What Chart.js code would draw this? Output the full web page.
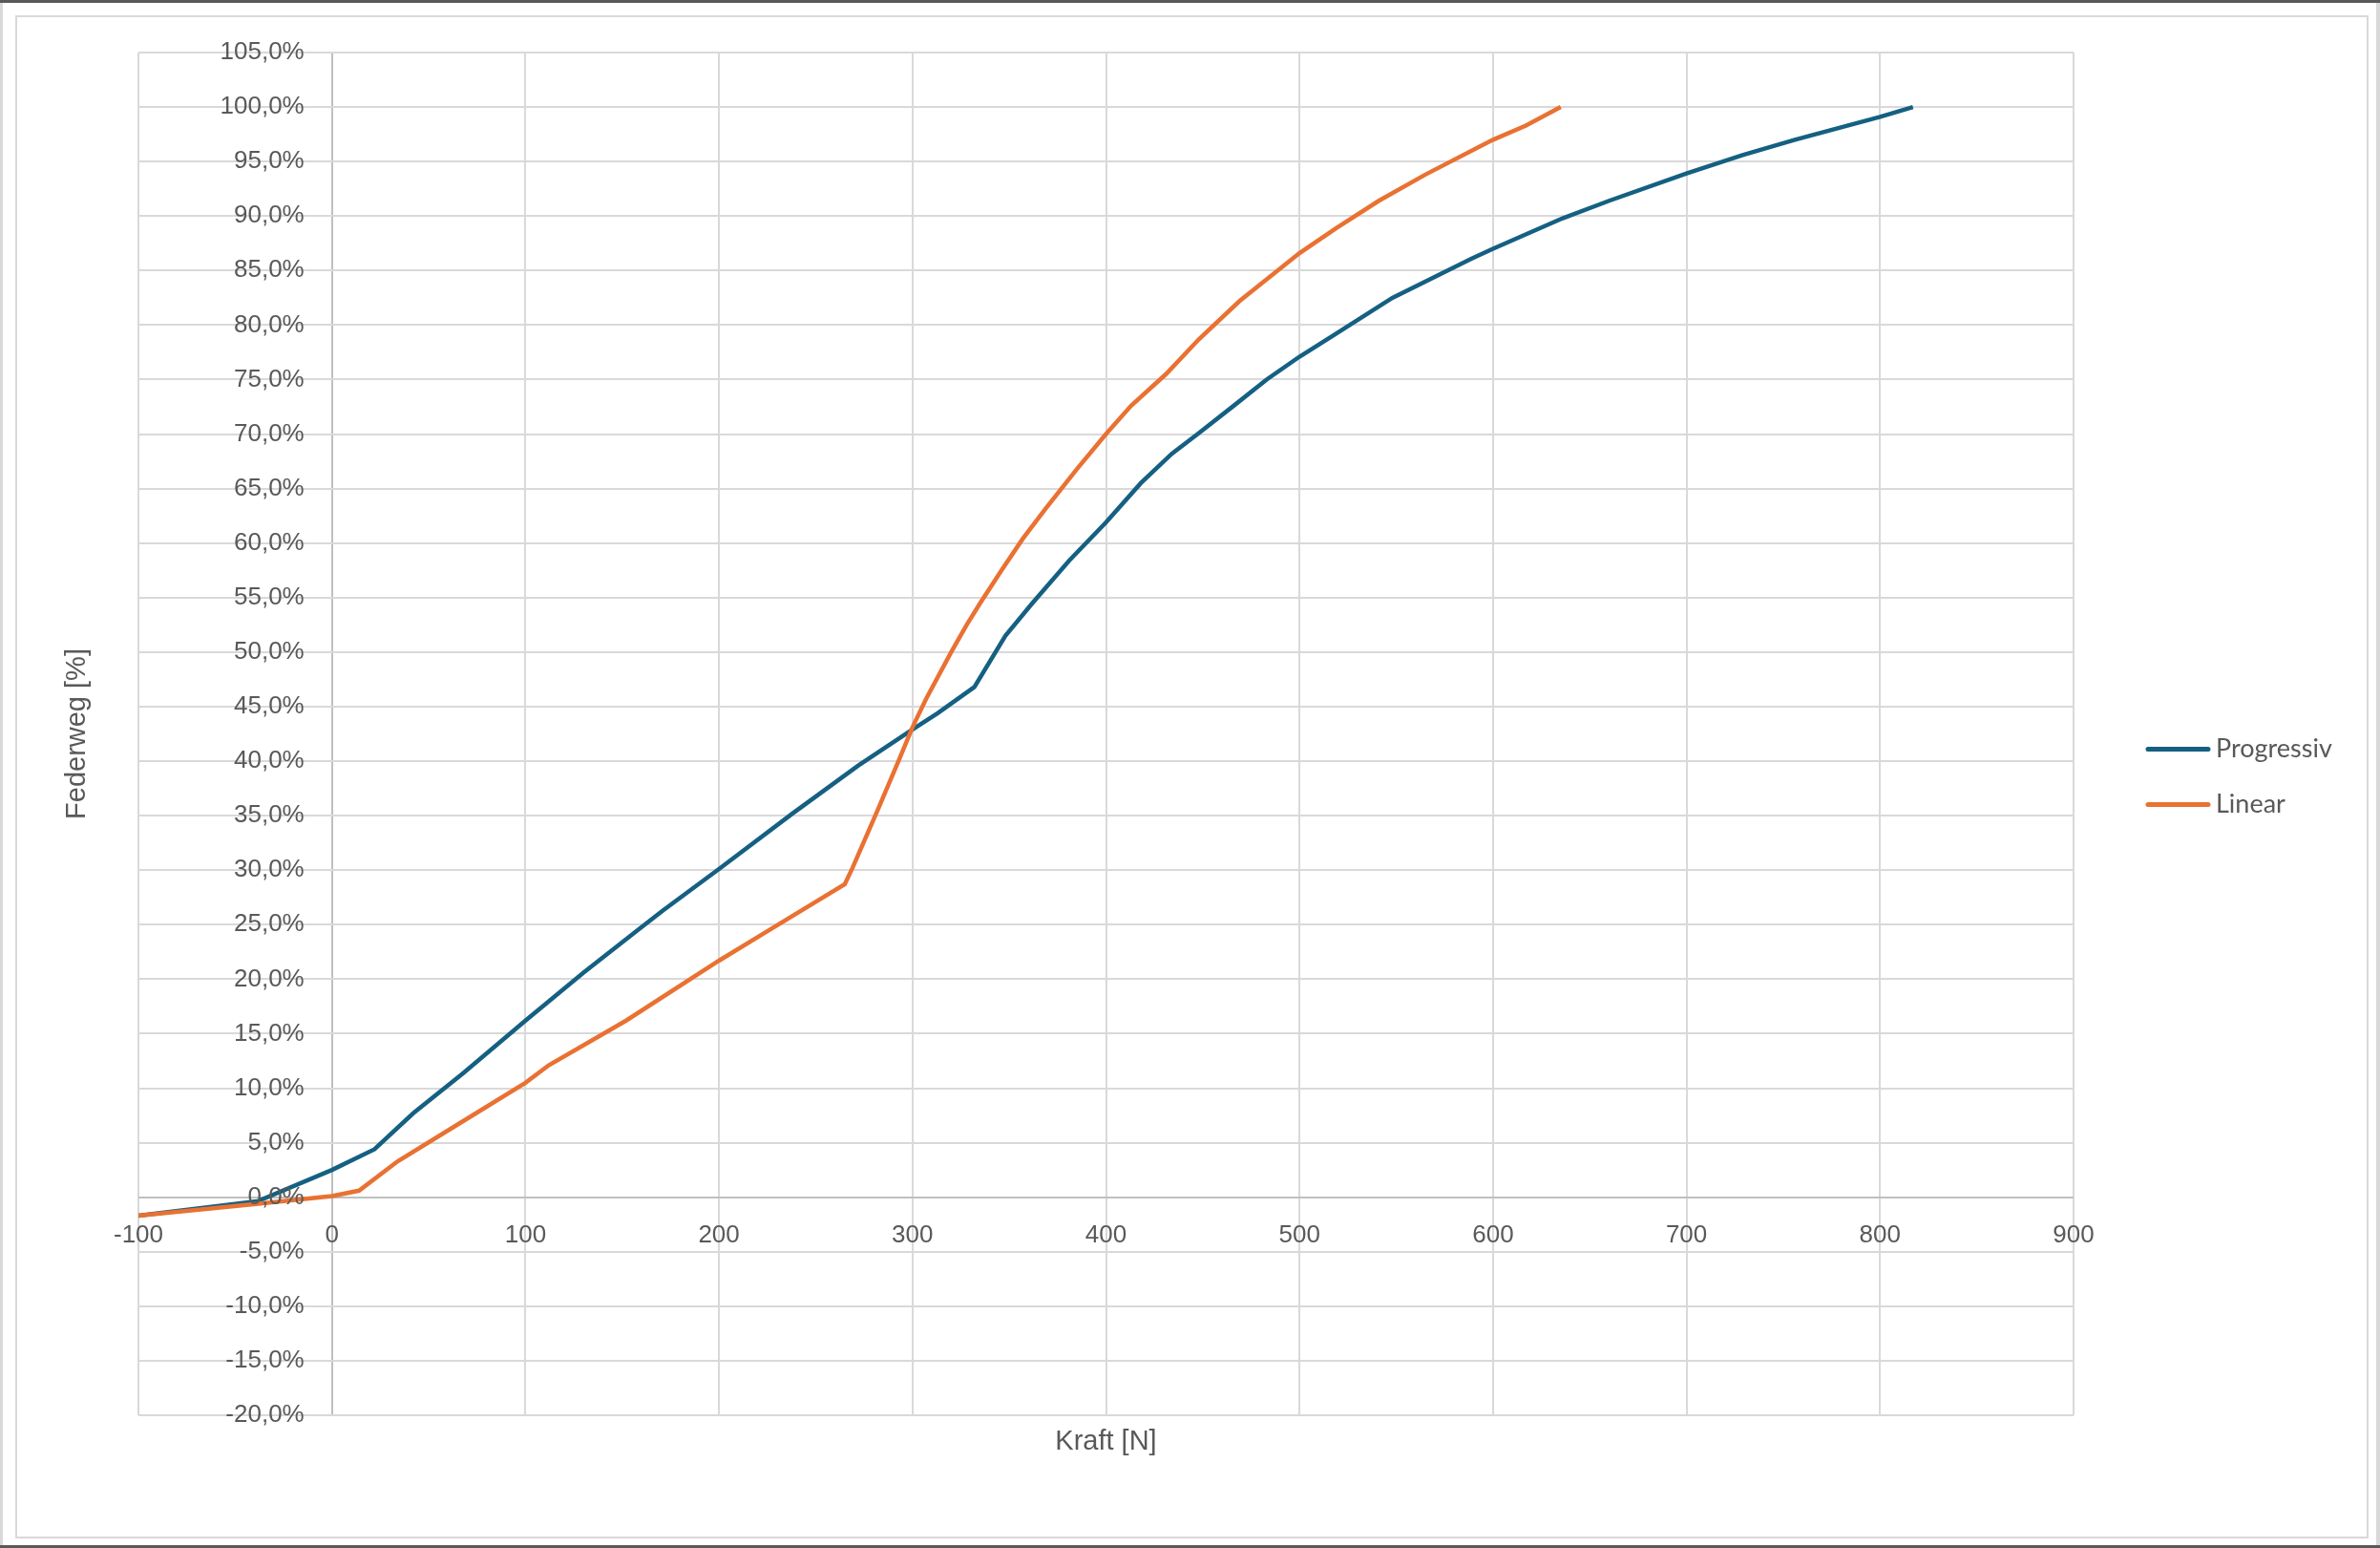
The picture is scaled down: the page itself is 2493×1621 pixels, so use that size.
<!DOCTYPE html>
<html lang="de">
<head>
<meta charset="utf-8">
<title>Federweg über Kraft</title>
<script src="https://cdn.jsdelivr.net/npm/chart.js@4.4.1/dist/chart.umd.min.js"></script>
<style>
  html, body { margin: 0; padding: 0; background: #ffffff; }
  #wrap { position: relative; width: 2493px; height: 1621px; overflow: hidden; }
  #wrap canvas { position: absolute; left: 0; top: 0; }
  .edge { position: absolute; pointer-events: none; }
</style>
</head>
<body>
<div id="wrap">
  <canvas id="springChart"></canvas>
  <div class="edge" style="left:0;top:0;width:2493px;height:3px;background:#595959"></div>
  <div class="edge" style="left:0;top:3px;width:3px;height:1615px;background:#d9d9d9"></div>
  <div class="edge" style="left:2489px;top:3px;width:4px;height:1615px;background:#d9d9d9"></div>
  <div class="edge" style="left:0;top:1618px;width:2493px;height:3px;background:#595959"></div>
  <div class="edge" style="left:16px;top:16px;width:2465px;height:1595px;border:2px solid #d9d9d9;box-sizing:border-box"></div>
</div>
<script>
// Kraft [N] / Federweg [%]
const progForce = [-100, -38, 0, 22, 42, 68, 100, 130, 158, 171, 200, 238, 272, 300, 313, 332,
  348, 362, 381, 400, 418, 434, 448, 466, 483, 500, 517, 548, 589, 600, 636, 660, 700, 729, 756, 800, 817];
const progTravel = [-1.7, -0.35, 2.5, 4.4, 7.7, 11.4, 16.2, 20.6, 24.5, 26.3, 30.1, 35.2, 39.6, 42.9, 44.4, 46.8,
  51.5, 54.5, 58.4, 61.9, 65.5, 68.2, 70.1, 72.6, 75.0, 77.1, 79.0, 82.5, 86.1, 87.0, 89.8, 91.4, 93.9, 95.6, 97.0, 99.1, 100];

const linForce = [-100, -38, 0, 14, 34, 68, 100, 112, 152, 200, 225, 265, 269, 282, 293, 300, 307,
  320, 328, 335, 346, 357, 369, 385, 400, 413, 431, 448, 469, 500, 519, 541, 565, 600, 617, 635];
const linTravel = [-1.7, -0.6, 0.1, 0.6, 3.3, 7.0, 10.5, 12.1, 16.2, 21.7, 24.4, 28.7, 30.2, 35.5, 40.1, 43.1, 45.7,
  50.0, 52.5, 54.5, 57.5, 60.4, 63.2, 66.8, 70.0, 72.6, 75.5, 78.7, 82.2, 86.6, 88.9, 91.4, 93.8, 97.0, 98.3, 100];

const seriesNames = ["Progressiv", "Linear"];
const seriesColors = ["#156082", "#e97132"];

const xRange = { min: -100, max: 900, step: 100 };
const yRange = { min: -20, max: 105, step: 5 };
const xTitle = "Kraft [N]";
const yTitle = "Federweg [%]";

const textColor = "#595959";
const gridColor = "#d9d9d9";
const zeroColor = "#bfbfbf";

function toPoints(xs, ys) {
  return xs.map((x, i) => ({ x: x, y: ys[i] }));
}

// axis titles and legend drawn relative to the plot area
const decorations = {
  id: "decorations",
  afterDraw(chart) {
    const { ctx, chartArea } = chart;
    ctx.save();
    ctx.fillStyle = textColor;
    ctx.textAlign = "center";
    ctx.textBaseline = "middle";
    ctx.font = '29px "Liberation Sans", Arial, sans-serif';
    ctx.fillText(xTitle, (chartArea.left + chartArea.right) / 2, chartArea.bottom + 28);
    ctx.translate(chartArea.left - 64, (chartArea.top + chartArea.bottom) / 2);
    ctx.rotate(-Math.PI / 2);
    ctx.fillText(yTitle, 0, 0);
    ctx.restore();

    ctx.save();
    const midY = chart.height / 2;
    chart.data.datasets.forEach((ds, i) => {
      const y = midY - 26 + i * 58;
      const x0 = chartArea.right + 78;
      ctx.strokeStyle = ds.borderColor;
      ctx.lineWidth = 5;
      ctx.lineCap = "round";
      ctx.beginPath();
      ctx.moveTo(x0, y);
      ctx.lineTo(x0 + 63, y);
      ctx.stroke();
      ctx.fillStyle = textColor;
      ctx.font = '27px Lato, "Liberation Sans", sans-serif';
      ctx.textAlign = "left";
      ctx.textBaseline = "middle";
      ctx.fillText(ds.label, x0 + 71, y);
    });
    ctx.restore();
  },
};

const ctx = document.getElementById("springChart").getContext("2d");

new Chart(ctx, {
  type: "line",
  data: {
    datasets: [
      {
        label: seriesNames[0],
        data: toPoints(progForce, progTravel),
        borderColor: seriesColors[0],
        borderWidth: 4.5,
        pointRadius: 0,
        tension: 0,
        fill: false,
        order: 1, // drawn under the orange line, like Excel
      },
      {
        label: seriesNames[1],
        data: toPoints(linForce, linTravel),
        borderColor: seriesColors[1],
        borderWidth: 4.5,
        pointRadius: 0,
        tension: 0,
        fill: false,
        order: 0,
      },
    ],
  },
  options: {
    responsive: true,
    maintainAspectRatio: false,
    animation: false,
    layout: {
      padding: { left: 145, right: 321, top: 55, bottom: 139 },
    },
    plugins: {
      legend: { display: false },
      tooltip: { enabled: false },
    },
    scales: {
      x: {
        type: "linear",
        position: { y: 0 },
        min: xRange.min,
        max: xRange.max,
        grid: {
          color: (c) => (c.tick && c.tick.value === 0 ? zeroColor : gridColor),
          lineWidth: 2,
          drawTicks: false,
        },
        border: { display: false },
        ticks: {
          stepSize: xRange.step,
          padding: 25,
          color: textColor,
          font: { family: '"Liberation Sans", Arial, sans-serif', size: 26 },
          z: 1,
          callback: (v) => String(v),
        },
      },
      y: {
        type: "linear",
        position: { x: -14.3 },
        min: yRange.min,
        max: yRange.max,
        grid: {
          color: (c) => (c.tick && c.tick.value === 0 ? zeroColor : gridColor),
          lineWidth: 2,
          drawTicks: false,
        },
        border: { display: false },
        ticks: {
          stepSize: yRange.step,
          color: textColor,
          font: { family: '"Liberation Sans", Arial, sans-serif', size: 26 },
          z: 1,
          callback: (v) => v.toFixed(1).replace(".", ",") + "%",
        },
      },
    },
  },
  plugins: [decorations],
});
</script>
</body>
</html>
